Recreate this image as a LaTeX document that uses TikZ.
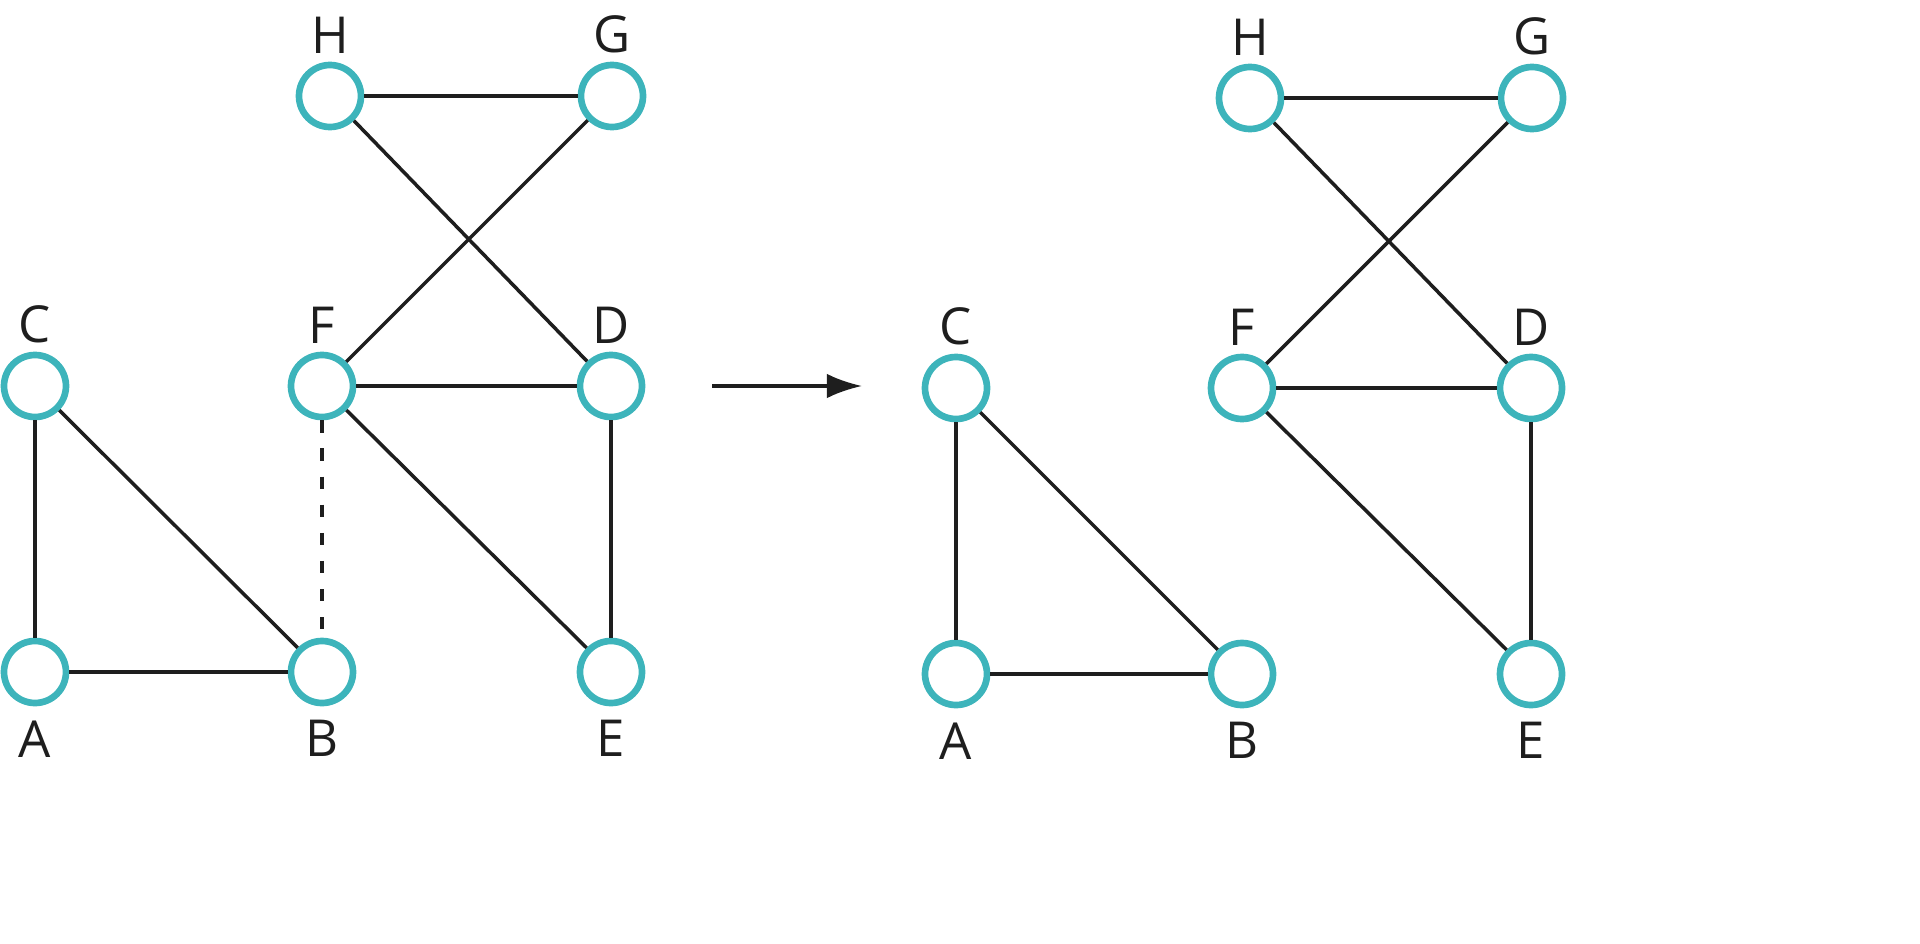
\documentclass[tikz,border=0pt]{standalone}
\usepackage{fontspec}
\setmainfont{Open Sans}
\usetikzlibrary{arrows,arrows.meta,positioning}
\definecolor{teal1}{HTML}{3DB4BB}
\definecolor{ink}{HTML}{1E1E1E}
\begin{document}
\begin{tikzpicture}[
vtx/.style = {circle, draw=teal1, line width=1.9pt, minimum size=0.62cm, inner sep=0pt},
lab/.style = {font=\fontsize{14.5}{14.5}\selectfont, text=ink, inner sep=1pt},
edge/.style = {draw=ink, line width=1pt}
]
\useasboundingbox (0,0) rectangle (19.2,9.43);

% left graph
\node (a1) [vtx] at (0.35,2.71) {};
\node (b1) [vtx] at (3.22,2.71) {};
\node (c1) [vtx] at (0.35,5.57) {};
\node (f1) [vtx] at (3.22,5.57) {};
\node (d1) [vtx] at (6.11,5.57) {};
\node (e1) [vtx] at (6.11,2.71) {};
\node (h1) [vtx] at (3.30,8.47) {};
\node (g1) [vtx] at (6.12,8.47) {};

% right graph
\node (a2) [vtx] at (9.56,2.69) {};
\node (b2) [vtx] at (12.42,2.69) {};
\node (c2) [vtx] at (9.56,5.55) {};
\node (f2) [vtx] at (12.42,5.55) {};
\node (d2) [vtx] at (15.31,5.55) {};
\node (e2) [vtx] at (15.31,2.69) {};
\node (h2) [vtx] at (12.50,8.45) {};
\node (g2) [vtx] at (15.32,8.45) {};

%
\foreach \n/\t in {a/A,b/B,e/E} {
  \node[lab, below=0.1cm of \n1] {\t};
  \node[lab, below=0.1cm of \n2] {\t};
}
\foreach \n/\t in {c/C,f/F,d/D,h/H,g/G} {
  \node[lab, above=0.04cm of \n1] {\t};
  \node[lab, above=0.04cm of \n2] {\t};
}

\foreach \i in {1,2} {
  \path[edge] (a\i) -- (b\i);
  \path[edge] (a\i) -- (c\i);
  \path[edge] (c\i) -- (b\i);
  \path[edge] (f\i) -- (d\i);
  \path[edge] (f\i) -- (e\i);
  \path[edge] (d\i) -- (e\i);
  \path[edge] (h\i) -- (g\i);
  \path[edge] (h\i) -- (d\i);
  \path[edge] (f\i) -- (g\i);
}
\path[edge, dash pattern=on 3.5pt off 4.5pt] (f1) -- (b1);

\coordinate (s) at (7.12,5.57);
\coordinate (t) at (8.62,5.57);
\draw[edge, -{Latex[length=10pt,width=7pt]}] (s) -- (t);
\end{tikzpicture}
\end{document}
